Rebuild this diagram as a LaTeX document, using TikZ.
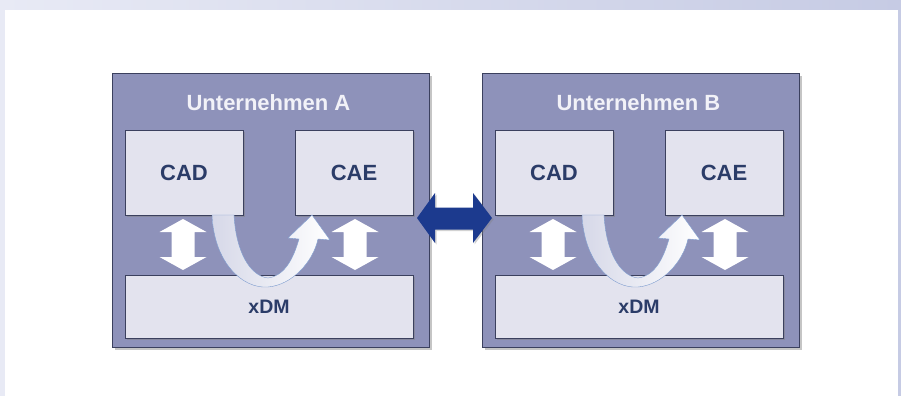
\documentclass[tikz,border=0pt]{standalone}
\usepackage{fontspec}
\setmainfont{Liberation Sans}
\usetikzlibrary{shadows,calc}
\definecolor{outerfill}{HTML}{8E92BA}
\definecolor{innerfill}{HTML}{E3E3EE}
\definecolor{edgec}{HTML}{3B405E}
\definecolor{txt}{HTML}{2B3C68}
\definecolor{navy}{HTML}{1C3A8E}
\definecolor{frameL}{HTML}{E8EAF5}
\definecolor{frameR}{HTML}{C6CBE4}
\definecolor{bandL}{HTML}{D6D8E8}
\definecolor{bandedge}{HTML}{7D9CCF}
\definecolor{titlec}{HTML}{F2F2F8}
\tikzset{
  company/.style={draw=edgec, line width=1pt, fill=outerfill, inner sep=0pt,
    drop shadow={shadow xshift=2.5pt, shadow yshift=-2.5pt, opacity=0.45}},
  module/.style={draw=edgec, line width=0.8pt, fill=innerfill, inner sep=0pt, text=txt,
    font=\bfseries\fontsize{22}{22}\selectfont,
    drop shadow={shadow xshift=2pt, shadow yshift=-2pt, opacity=0.45}},
  xdm/.style={module, font=\bfseries\fontsize{19.5}{19.5}\selectfont},
  ctitle/.style={font=\bfseries\fontsize{22}{22}\selectfont, text=titlec},
  updown/.style={fill=white, draw=none},
  band/.style={left color=bandL, right color=white, draw=bandedge, line width=0.4pt},
  link/.style={fill=navy, draw=none, drop shadow={shadow xshift=1.5pt, shadow yshift=-1.5pt, opacity=0.35}},
}
\begin{document}
\begin{tikzpicture}[x=1pt,y=-1pt]
\useasboundingbox (0,0) rectangle (901,396);
% frame
\shade[left color=frameL, right color=frameR] (0,0) rectangle (901,10);
\fill[frameL] (0,10) rectangle (5,396);
\fill[frameR] (898,10) rectangle (901,396);
\fill[white] (5,10) rectangle (898,396);

\foreach \co/\dx in {A/0,B/370}{
\begin{scope}[xshift=\dx pt]
  \node[company, minimum width=317pt, minimum height=274pt] (box\co) at (270.5,210) {};
  \node[ctitle] (title\co) at (268.5,103) {Unternehmen \co};
  \node[module, minimum width=118pt, minimum height=85pt] (cad\co) at (184,172.5) {CAD};
  \node[module, minimum width=118pt, minimum height=85pt] (cae\co) at (354,172.5) {CAE};
  \node[xdm, minimum width=288pt, minimum height=63pt] (xdm\co) at (269,306.5) {xDM};
  % vertical double arrows
  \foreach \cx in {183,355}{
    \fill[updown] (\cx,219) -- (\cx+23.5,232) -- (\cx+11.5,232) -- (\cx+11.5,257)
      -- (\cx+23.5,257) -- (\cx,270) -- (\cx-23.5,257) -- (\cx-11.5,257)
      -- (\cx-11.5,232) -- (\cx-23.5,232) -- cycle;
  }
  % curved arrow from CAD via xDM to CAE
  \shade[band] (212,215) .. controls (214,262) and (242,289) .. (268,287)
    .. controls (292,285) and (313,262) .. (318,239)
    -- (330,240) -- (312,215) -- (288,238) -- (299,239)
    .. controls (293,260) and (284,276) .. (268,278)
    .. controls (250,276) and (236,252) .. (234,215) -- cycle;
\end{scope}
}
% link between the companies
\fill[link] (417,218) -- (435,193) -- (435,207.5) -- (473,207.5) -- (473,193) -- (492,218)
  -- (473,243) -- (473,229.5) -- (435,229.5) -- (435,243) -- cycle;
\end{tikzpicture}
\end{document}
